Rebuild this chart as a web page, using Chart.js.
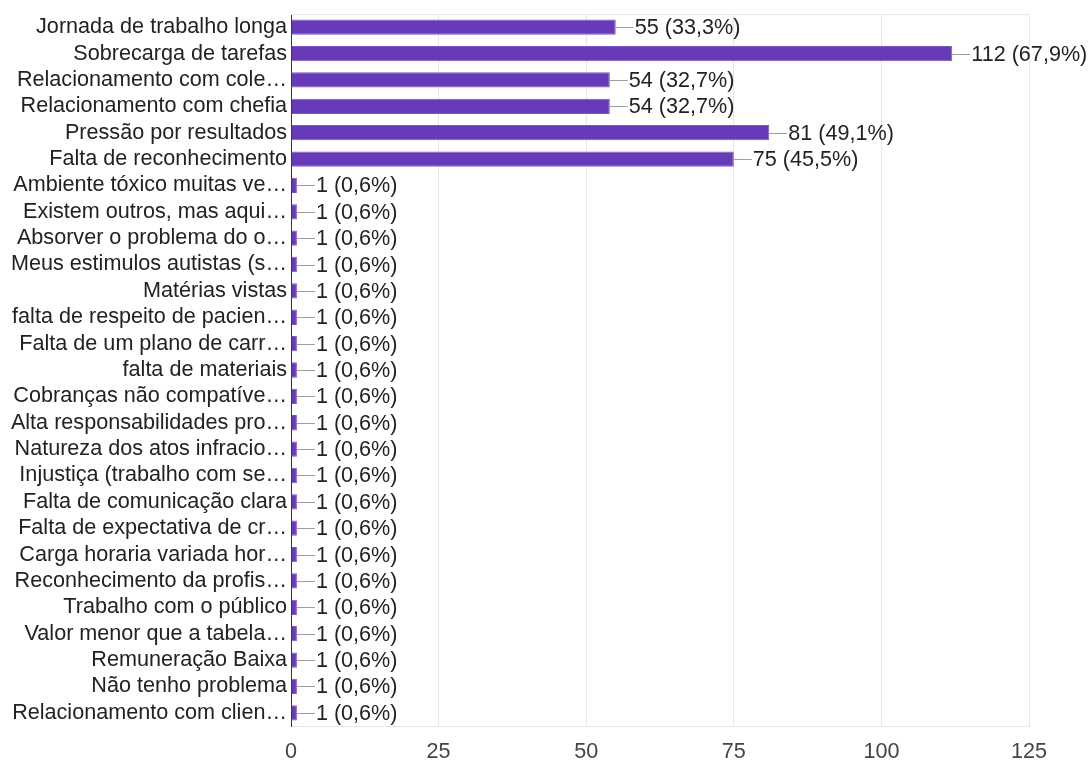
<!DOCTYPE html>
<html>
<head>
<meta charset="utf-8">
<script src="https://cdn.jsdelivr.net/npm/chart.js@4.4.1/dist/chart.umd.min.js"></script>
<style>
  html, body { margin: 0; padding: 0; background: #fff; }
  #wrap { width: 1088px; height: 760px; position: relative; }
</style>
</head>
<body>
<div id="wrap"><canvas id="myChart"></canvas></div>
<script>
const categorias = [
    "Jornada de trabalho longa",
    "Sobrecarga de tarefas",
    "Relacionamento com cole…",
    "Relacionamento com chefia",
    "Pressão por resultados",
    "Falta de reconhecimento",
    "Ambiente tóxico muitas ve…",
    "Existem outros, mas aqui…",
    "Absorver o problema do o…",
    "Meus estimulos autistas (s…",
    "Matérias vistas",
    "falta de respeito de pacien…",
    "Falta de um plano de carr…",
    "falta de materiais",
    "Cobranças não compatíve…",
    "Alta responsabilidades pro…",
    "Natureza dos atos infracio…",
    "Injustiça (trabalho com se…",
    "Falta de comunicação clara",
    "Falta de expectativa de cr…",
    "Carga horaria variada hor…",
    "Reconhecimento da profis…",
    "Trabalho com o público",
    "Valor menor que a tabela…",
    "Remuneração Baixa",
    "Não tenho problema",
    "Relacionamento com clien…"
];
const respostas = [55, 112, 54, 54, 81, 75, 1, 1, 1, 1, 1, 1, 1, 1, 1, 1, 1, 1, 1, 1, 1, 1, 1, 1, 1, 1, 1];
const percentuais = ["33,3%", "67,9%", "32,7%", "32,7%", "49,1%", "45,5%",
    "0,6%", "0,6%", "0,6%", "0,6%", "0,6%", "0,6%", "0,6%", "0,6%", "0,6%", "0,6%",
    "0,6%", "0,6%", "0,6%", "0,6%", "0,6%", "0,6%", "0,6%", "0,6%", "0,6%", "0,6%", "0,6%"];
const ticksX = [0, 25, 50, 75, 100, 125];

const fonte = "'Liberation Sans', Arial, sans-serif";
const tamanho = 21.6;

// rótulos com linha guia depois de cada barra
const rotulos = {
    id: 'rotulos',
    afterDatasetsDraw(chart) {
        const c = chart.ctx;
        const meta = chart.getDatasetMeta(0);
        c.save();
        c.font = tamanho + "px " + fonte;
        c.textBaseline = 'middle';
        meta.data.forEach((bar, i) => {
            const x = bar.x;
            const y = Math.round(bar.y) + 0.5;
            c.strokeStyle = '#9e9e9e';
            c.lineWidth = 1;
            c.beginPath();
            c.moveTo(x, y);
            c.lineTo(x + 18, y);
            c.stroke();
            c.fillStyle = '#222';
            c.fillText(respostas[i] + " (" + percentuais[i] + ")", x + 19, y + 1);
        });
        c.restore();
    },
    beforeDatasetsDraw(chart) {
        const c = chart.ctx;
        const a = chart.chartArea;
        c.save();
        c.strokeStyle = '#e6e6e6';
        c.lineWidth = 1;
        c.beginPath();
        c.moveTo(a.left, a.top + 0.5);
        c.lineTo(a.right, a.top + 0.5);
        c.stroke();
        c.restore();
    }
};

const ctx = document.getElementById('myChart');

const myChart = new Chart(ctx, {
    type: 'bar',
    data: {
        labels: categorias,
        datasets: [{
            data: respostas,
            backgroundColor: '#673ab7',
            borderColor: '#7e57c2',
            borderWidth: 1,
            categoryPercentage: 1,
            barPercentage: 0.58
        }]
    },
    options: {
        indexAxis: 'y',
        responsive: true,
        maintainAspectRatio: false,
        animation: false,
        layout: {
            padding: { top: 14, right: 59, bottom: 0, left: 0 }
        },
        plugins: {
            legend: { display: false },
            tooltip: { enabled: false }
        },
        scales: {
            x: {
                min: 0,
                max: 125,
                afterBuildTicks(axis) {
                    axis.ticks = ticksX.map(v => ({ value: v }));
                },
                afterFit(axis) {
                    axis.height = 34;
                    axis.paddingLeft = 0;
                    axis.paddingRight = 0;
                },
                grid: {
                    color: '#e6e6e6',
                    drawTicks: false
                },
                border: { display: true, color: '#e6e6e6' },
                ticks: {
                    color: '#444',
                    padding: 13,
                    font: { family: fonte, size: tamanho }
                }
            },
            y: {
                afterFit(axis) {
                    axis.width = 291;
                    axis.paddingTop = 0;
                    axis.paddingBottom = 0;
                },
                grid: { display: false, drawTicks: false },
                border: { display: true, color: '#333', width: 1 },
                ticks: {
                    color: '#222',
                    padding: 4,
                    autoSkip: false,
                    font: { family: fonte, size: tamanho }
                }
            }
        }
    },
    plugins: [rotulos]
});
</script>
</body>
</html>
